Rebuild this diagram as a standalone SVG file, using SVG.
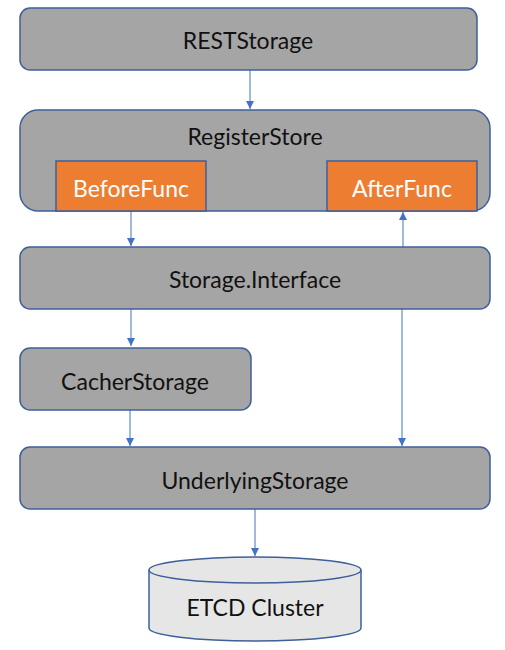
<svg xmlns="http://www.w3.org/2000/svg" width="505" height="650" viewBox="0 0 505 650">
<style>
.box{fill:#A5A5A5;stroke:#3F5F9A;stroke-width:1.5}
.fn{fill:#ED7D31;stroke:#3F5F9A;stroke-width:1.5}
.t{font-family:Lato,"Open Sans",sans-serif;font-size:23px;fill:#111;text-anchor:middle;dominant-baseline:central}
.tw{fill:#fff}
.c{stroke:#4472C4;stroke-width:1;fill:none;marker-end:url(#ah)}
</style>
<defs>
<marker id="ah" viewBox="0 0 10 10" refX="10" refY="5" markerWidth="9" markerHeight="8" markerUnits="userSpaceOnUse" orient="auto">
<path d="M0,0 L10,5 L0,10 z" fill="#4472C4"/>
</marker>
</defs>
<g id="connectors">
<line class="c" x1="250" y1="70" x2="250" y2="109"/>
<line class="c" x1="131" y1="211" x2="131" y2="246"/>
<line class="c" x1="403" y1="247" x2="403" y2="212"/>
<line class="c" x1="131" y1="309" x2="131" y2="346"/>
<line class="c" x1="130" y1="410" x2="130" y2="446"/>
<line class="c" x1="402" y1="309" x2="402" y2="446"/>
<line class="c" x1="255" y1="509" x2="255" y2="556"/>
</g>
<g id="RESTStorage">
<rect class="box" x="20" y="8" width="457" height="62" rx="10"/>
<text class="t" x="248" y="40">RESTStorage</text>
</g>
<g id="RegisterStore">
<rect class="box" x="20" y="110" width="470" height="101" rx="18"/>
<text class="t" x="255" y="136">RegisterStore</text>
</g>
<g id="BeforeFunc">
<rect class="fn" x="56" y="161" width="150" height="50"/>
<text class="t tw" x="131" y="188">BeforeFunc</text>
</g>
<g id="AfterFunc">
<rect class="fn" x="327" y="161" width="150" height="50"/>
<text class="t tw" x="402" y="188">AfterFunc</text>
</g>
<g id="StorageInterface">
<rect class="box" x="20" y="247" width="470" height="62" rx="10"/>
<text class="t" x="255" y="279">Storage.Interface</text>
</g>
<g id="CacherStorage">
<rect class="box" x="20" y="348" width="231" height="62" rx="10"/>
<text class="t" x="135" y="381">CacherStorage</text>
</g>
<g id="UnderlyingStorage">
<rect class="box" x="20" y="447" width="470" height="62" rx="10"/>
<text class="t" x="255" y="480">UnderlyingStorage</text>
</g>
<g id="ETCDCluster">
<path d="M149,570 A106,13 0 0 1 361,570 L361,628 A106,13 0 0 1 149,628 Z" fill="#E7E6E6" stroke="#3F5F9A" stroke-width="1.5"/>
<path d="M149,570 A106,13 0 0 0 361,570" fill="none" stroke="#3F5F9A" stroke-width="1.5"/>
<text class="t" x="255" y="607">ETCD Cluster</text>
</g>
</svg>
